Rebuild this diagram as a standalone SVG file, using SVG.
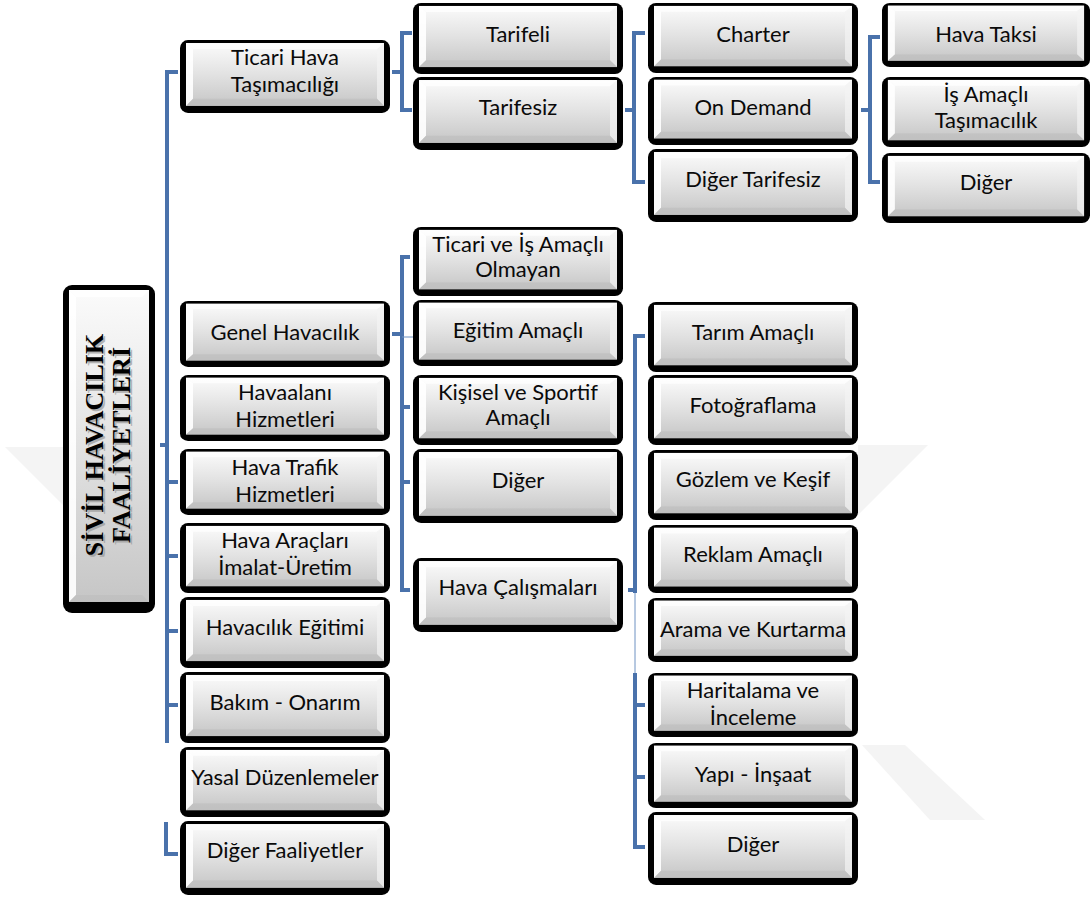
<svg xmlns="http://www.w3.org/2000/svg" xmlns:xlink="http://www.w3.org/1999/xlink" width="1091" height="898" viewBox="0 0 1091 898">
  <style>
    .t { font-family: Lato, "Open Sans", sans-serif; font-size: 22px; fill: #0a0a0a; text-anchor: middle; }
    .root { font-family: "Liberation Serif", "Times New Roman", serif; font-size: 26px; font-weight: bold; text-anchor: middle; }
    .br { fill: none; stroke: #4a72ab; stroke-width: 4; stroke-linecap: butt; stroke-linejoin: miter; }
    .thin { fill: none; stroke: #6f92c2; stroke-width: 1; }
    .wm { fill: #f4f4f4; }
  </style>
  <defs>
    <linearGradient id="face" x1="0" y1="0" x2="0" y2="1">
      <stop offset="0" stop-color="#fbfbfb"/>
      <stop offset="0.5" stop-color="#e2e2e2"/>
      <stop offset="1" stop-color="#c6c6c6"/>
    </linearGradient>
    <!-- bevelled button; stretched to each box size -->
    <symbol id="btn" viewBox="0 0 210 72" preserveAspectRatio="none">
      <rect width="210" height="72" rx="8" fill="#000"/>
      <rect x="6" y="3" width="198" height="62" fill="url(#face)"/>
      <polygon points="6,3 204,3 197,9 13,9" fill="#fff" opacity="0.75"/>
      <polygon points="6,3 13,9 13,58 6,65" fill="#fff" opacity="0.9"/>
      <polygon points="204,3 204,65 197,58 197,9" fill="#f4f4f4" opacity="0.7"/>
      <polygon points="6,65 204,65 197,58 13,58" fill="#bdbdbd" opacity="0.6"/>
    </symbol>
  </defs>

  <rect width="1091" height="898" fill="#fff"/>

  <!-- faint background emblem -->
  <g id="emblem">
    <polygon class="wm" points="5,447 64,447 64,506"/>
    <polygon class="wm" points="858,445 928,445 858,515"/>
    <polygon class="wm" points="862,745 905,745 985,820 930,820"/>
  </g>

  <!-- connectors -->
  <g id="connectors">
    <path class="br" d="M178,72 H167 V743"/>
    <path class="br" d="M160,445 H167 M167,482 H178 M167,556 H178 M167,631 H178 M167,705 H178"/>
    <path class="br" d="M166,822 V854 H178"/>
    <path class="br" d="M412,33 H402 V110 H412 M392,72 H402"/>
    <path class="br" d="M645,33 H634 V182 H645 M625,110 H634"/>
    <path class="br" d="M880,37 H870 V182 H880 M861,110 H870"/>
    <path class="br" d="M410,257 H402 V590 H410 M392,334 H402 M402,407 H410 M402,482 H410"/>
    <path class="thin" d="M402,337 H414"/>
    <path class="br" d="M645,336 H635 V593 M628,590 H635 M635,673 V847 H645 M635,705 H645 M635,777 H645"/>
    <path class="thin" d="M635,593 V673"/>
  </g>

  <!-- root -->
  <g id="n_root">
    <rect x="63" y="285" width="92" height="328" rx="9" fill="#000"/>
    <rect x="69" y="290" width="80" height="312" fill="url(#face)"/>
    <polygon points="69,290 149,290 142,297 76,297" fill="#fff" opacity="0.75"/>
    <polygon points="69,290 76,297 76,595 69,602" fill="#fff" opacity="0.9"/>
    <polygon points="69,602 149,602 142,595 76,595" fill="#bdbdbd" opacity="0.6"/>
    <g fill="#999" opacity="0.7">
      <text class="root" transform="translate(105,447) rotate(-90)">SİVİL HAVACILIK</text>
      <text class="root" transform="translate(132,447) rotate(-90)">FAALİYETLERİ</text>
    </g>
    <g fill="#000">
      <text class="root" transform="translate(103,445) rotate(-90)">SİVİL HAVACILIK</text>
      <text class="root" transform="translate(130,445) rotate(-90)">FAALİYETLERİ</text>
    </g>
  </g>

  <!-- level 1 -->
  <g id="n_ticari"><use href="#btn" x="180" y="40" width="210" height="73"/><text class="t" x="285" y="65">Ticari Hava</text><text class="t" x="285" y="92">Taşımacılığı</text></g>
  <g id="n_genel"><use href="#btn" x="180" y="301" width="210" height="66"/><text class="t" x="285" y="340">Genel Havacılık</text></g>
  <g id="n_havaalani"><use href="#btn" x="180" y="375" width="210" height="66"/><text class="t" x="285" y="400">Havaalanı</text><text class="t" x="285" y="427">Hizmetleri</text></g>
  <g id="n_trafik"><use href="#btn" x="180" y="449" width="210" height="66"/><text class="t" x="285" y="475">Hava Trafik</text><text class="t" x="285" y="502">Hizmetleri</text></g>
  <g id="n_araclar"><use href="#btn" x="180" y="523" width="210" height="70"/><text class="t" x="285" y="548">Hava Araçları</text><text class="t" x="285" y="575">İmalat-Üretim</text></g>
  <g id="n_egitim"><use href="#btn" x="180" y="597" width="210" height="71"/><text class="t" x="285" y="635">Havacılık Eğitimi</text></g>
  <g id="n_bakim"><use href="#btn" x="180" y="672" width="210" height="71"/><text class="t" x="285" y="710">Bakım - Onarım</text></g>
  <g id="n_yasal"><use href="#btn" x="180" y="747" width="210" height="70"/><text class="t" x="285" y="785">Yasal Düzenlemeler</text></g>
  <g id="n_diger_faaliyet"><use href="#btn" x="180" y="821" width="210" height="74"/><text class="t" x="285" y="858">Diğer Faaliyetler</text></g>

  <!-- level 2 -->
  <g id="n_tarifeli"><use href="#btn" x="413" y="3" width="210" height="71"/><text class="t" x="518" y="42">Tarifeli</text></g>
  <g id="n_tarifesiz"><use href="#btn" x="413" y="77" width="210" height="73"/><text class="t" x="518" y="115">Tarifesiz</text></g>
  <g id="n_ticari_olmayan"><use href="#btn" x="413" y="227" width="210" height="69"/><text class="t" x="518" y="252">Ticari ve İş Amaçlı</text><text class="t" x="518" y="277">Olmayan</text></g>
  <g id="n_egitim_amacli"><use href="#btn" x="413" y="300" width="210" height="66"/><text class="t" x="518" y="338">Eğitim Amaçlı</text></g>
  <g id="n_kisisel"><use href="#btn" x="413" y="375" width="210" height="70"/><text class="t" x="518" y="400">Kişisel ve Sportif</text><text class="t" x="518" y="425">Amaçlı</text></g>
  <g id="n_diger_genel"><use href="#btn" x="413" y="449" width="210" height="74"/><text class="t" x="518" y="488">Diğer</text></g>
  <g id="n_hava_calismalari"><use href="#btn" x="413" y="558" width="210" height="74"/><text class="t" x="518" y="595">Hava Çalışmaları</text></g>

  <!-- level 3 -->
  <g id="n_charter"><use href="#btn" x="648" y="3" width="210" height="70"/><text class="t" x="753" y="42">Charter</text></g>
  <g id="n_on_demand"><use href="#btn" x="648" y="77" width="210" height="68"/><text class="t" x="753" y="115">On Demand</text></g>
  <g id="n_diger_tarifesiz"><use href="#btn" x="648" y="149" width="210" height="73"/><text class="t" x="753" y="187">Diğer Tarifesiz</text></g>
  <g id="n_tarim"><use href="#btn" x="648" y="302" width="210" height="70"/><text class="t" x="753" y="340">Tarım Amaçlı</text></g>
  <g id="n_foto"><use href="#btn" x="648" y="375" width="210" height="70"/><text class="t" x="753" y="413">Fotoğraflama</text></g>
  <g id="n_gozlem"><use href="#btn" x="648" y="450" width="210" height="70"/><text class="t" x="753" y="487">Gözlem ve Keşif</text></g>
  <g id="n_reklam"><use href="#btn" x="648" y="525" width="210" height="68"/><text class="t" x="753" y="562">Reklam Amaçlı</text></g>
  <g id="n_arama"><use href="#btn" x="648" y="598" width="210" height="64"/><text class="t" x="753" y="637">Arama ve Kurtarma</text></g>
  <g id="n_haritalama"><use href="#btn" x="648" y="673" width="210" height="64"/><text class="t" x="753" y="698">Haritalama ve</text><text class="t" x="753" y="725">İnceleme</text></g>
  <g id="n_yapi"><use href="#btn" x="648" y="743" width="210" height="65"/><text class="t" x="753" y="782">Yapı - İnşaat</text></g>
  <g id="n_diger_hc"><use href="#btn" x="648" y="812" width="210" height="73"/><text class="t" x="753" y="852">Diğer</text></g>

  <!-- level 4 -->
  <g id="n_hava_taksi"><use href="#btn" x="882" y="3" width="208" height="64"/><text class="t" x="986" y="42">Hava Taksi</text></g>
  <g id="n_is_amacli"><use href="#btn" x="882" y="77" width="208" height="70"/><text class="t" x="986" y="102">İş Amaçlı</text><text class="t" x="986" y="128">Taşımacılık</text></g>
  <g id="n_diger_taksi"><use href="#btn" x="882" y="153" width="208" height="70"/><text class="t" x="986" y="190">Diğer</text></g>
</svg>
